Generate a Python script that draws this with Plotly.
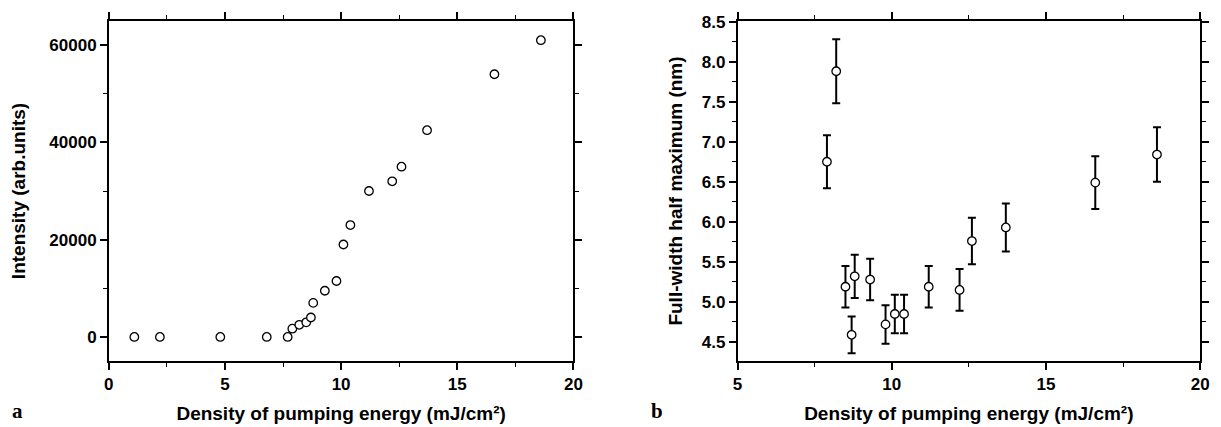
import plotly.graph_objects as go

# Panel a: intensity vs pumping energy density
energy_a = [1.1, 2.2, 4.8, 6.8, 7.7, 7.9, 8.2, 8.5, 8.7, 8.8, 9.3, 9.8, 10.1, 10.4, 11.2, 12.2, 12.6, 13.7, 16.6, 18.6]
intensity = [0, 0, 0, 0, 0, 1700, 2500, 3000, 4000, 7000, 9500, 11500, 19000, 23000, 30000, 32000, 35000, 42500, 54000, 61000]

# Panel b: FWHM vs pumping energy density
energy_b = [7.9, 8.2, 8.5, 8.7, 8.8, 9.3, 9.8, 10.1, 10.4, 11.2, 12.2, 12.6, 13.7, 16.6, 18.6]
fwhm = [6.75, 7.88, 5.19, 4.59, 5.32, 5.28, 4.72, 4.85, 4.85, 5.19, 5.15, 5.76, 5.93, 6.49, 6.84]
fwhm_err = [0.33, 0.40, 0.26, 0.23, 0.27, 0.26, 0.24, 0.24, 0.24, 0.26, 0.26, 0.29, 0.30, 0.33, 0.34]

x_title = "Density of pumping energy (mJ/cm²)"
ya_title = "Intensity (arb.units)"
yb_title = "Full-width half maximum (nm)"

W, H = 1221, 427
FONT = "Liberation Sans, Arial, sans-serif"

marker = dict(symbol="circle", size=8.5, color="white", line=dict(color="black", width=1.3))

fig = go.Figure()
fig.add_trace(go.Scatter(x=energy_a, y=intensity, mode="markers", marker=marker,
                         xaxis="x", yaxis="y", showlegend=False))
fig.add_trace(go.Scatter(x=energy_b, y=fwhm, mode="markers", marker=marker,
                         error_y=dict(type="data", array=fwhm_err, visible=True,
                                      color="black", thickness=2, width=4),
                         xaxis="x2", yaxis="y2", showlegend=False))

def px_x(p):
    return p / W

def px_y(p):
    return 1 - p / H

top_px, bot_px = 13, 360
ydom = [px_y(bot_px), px_y(top_px)]

axis_common = dict(
    showline=True, linecolor="black", linewidth=1.5, mirror="allticks",
    ticks="outside", ticklen=7, tickwidth=1.5, tickcolor="black",
    showgrid=False, zeroline=False,
    tickfont=dict(family=FONT, size=17, color="black", weight="bold"),
    title_font=dict(family=FONT, size=19, color="black", weight="bold"),
)
minor = dict(ticks="outside", ticklen=4, tickwidth=1.2, tickcolor="black")
label_font = dict(family="Liberation Serif, Times New Roman, serif", size=21, color="black", weight="bold")

fig.update_layout(
    width=W, height=H,
    margin=dict(l=0, r=0, t=0, b=0),
    paper_bgcolor="white", plot_bgcolor="white",
    xaxis=dict(domain=[px_x(105), px_x(575)], range=[0, 20], tick0=0, dtick=5,
               minor=dict(dtick=2.5, **minor),
               anchor="y", title=dict(text=x_title, standoff=13), **axis_common),
    yaxis=dict(domain=ydom, range=[-5000, 65000], tick0=0, dtick=20000, tickformat="d",
               minor=dict(dtick=10000, **minor),
               anchor="x", title=dict(text=ya_title, standoff=19), **axis_common),
    xaxis2=dict(domain=[px_x(741), px_x(1209)], range=[5, 20], tick0=5, dtick=5,
                minor=dict(dtick=2.5, **minor),
                anchor="y2", title=dict(text=x_title, standoff=13), **axis_common),
    yaxis2=dict(domain=ydom, range=[4.26, 8.51], tick0=4.5, dtick=0.5, tickformat=".1f",
                minor=dict(dtick=0.25, **minor),
                anchor="x2", title=dict(text=yb_title, standoff=14), **axis_common),
    annotations=[
        dict(text="a", x=px_x(13), y=px_y(411), xref="paper", yref="paper", showarrow=False,
             xanchor="center", yanchor="middle", font=label_font),
        dict(text="b", x=px_x(660), y=px_y(411), xref="paper", yref="paper", showarrow=False,
             xanchor="center", yanchor="middle", font=label_font),
    ],
)

fig.write_html("out.html", config={"displayModeBar": False},
               post_script="document.body.style.margin='0';document.body.style.overflow='hidden';")
